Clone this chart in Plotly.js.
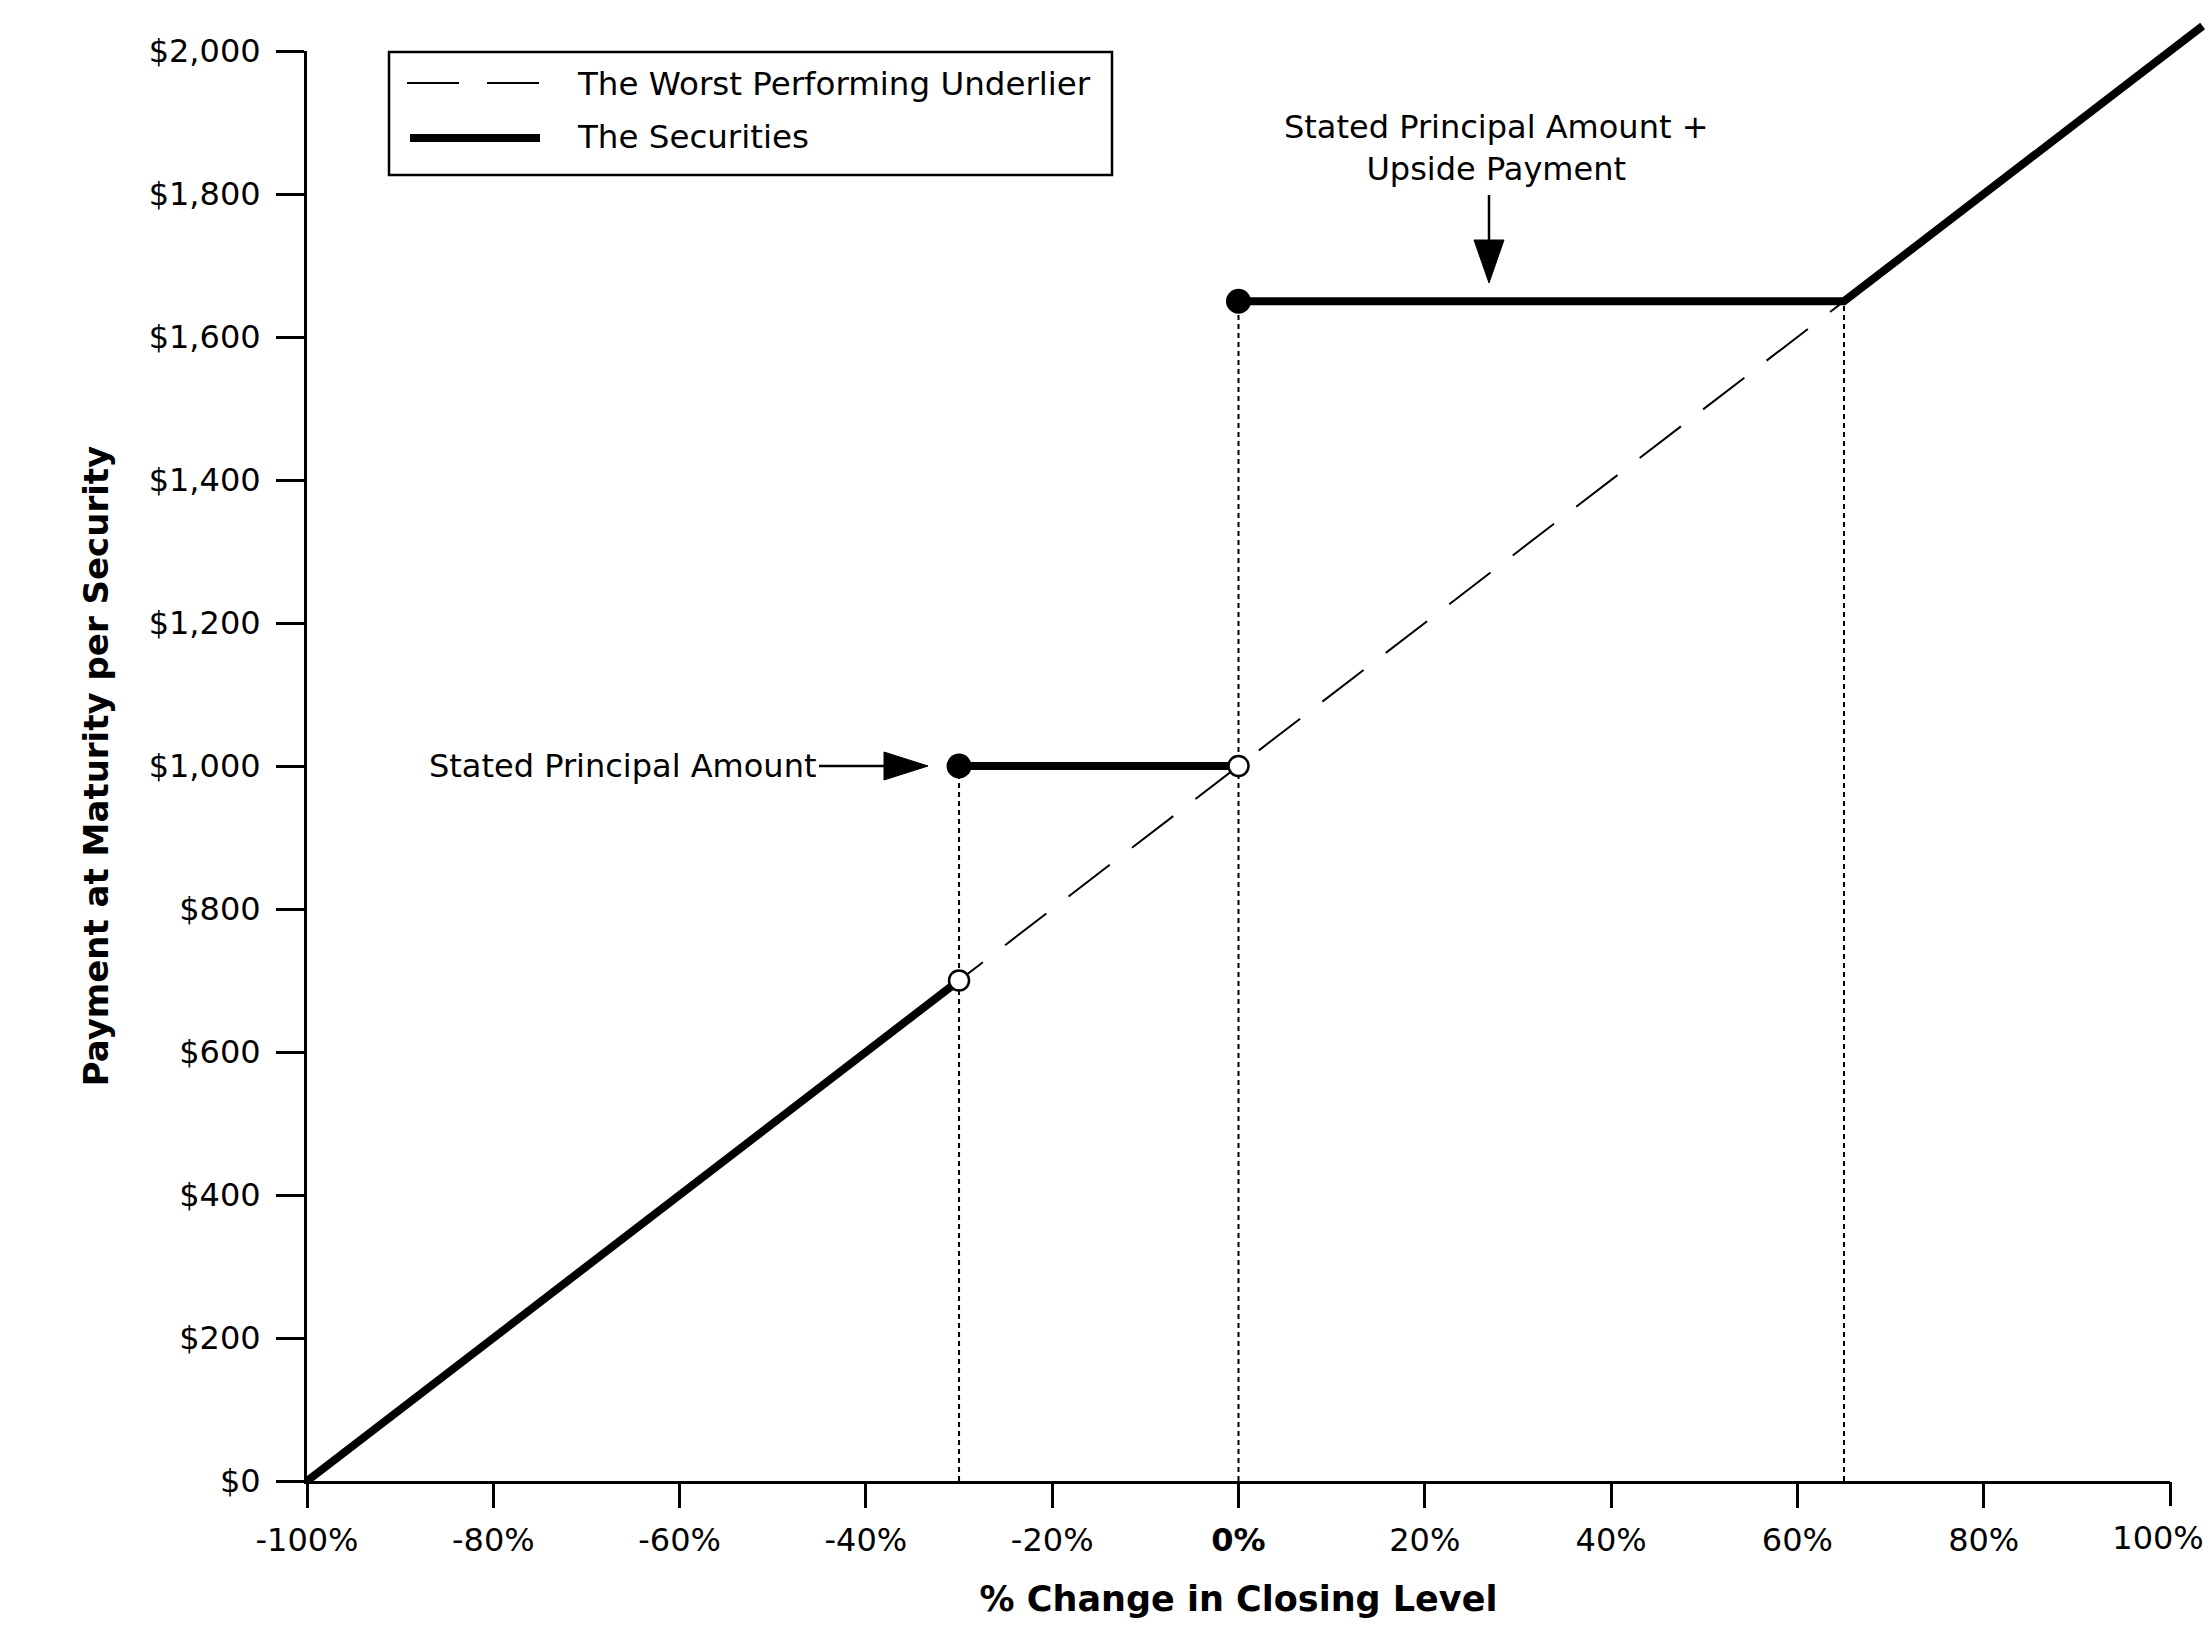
<!DOCTYPE html>
<html>
<head>
<meta charset="utf-8">
<script src="https://cdn.plot.ly/plotly-3.0.1.min.js"></script>
<style>html,body{margin:0;padding:0;background:#fff;}</style>
</head>
<body>
<div id="chart" style="width:2211px;height:1650px;"></div>
<script>
// ---------- data ----------
const xTickVals = [-1, -0.8, -0.6, -0.4, -0.2, 0, 0.2, 0.4, 0.6, 0.8];
const xTickText = ['-100%', '-80%', '-60%', '-40%', '-20%', '<b>0%</b>', '20%', '40%', '60%', '80%'];
const xEdgeTickVals = [1];
const xEdgeTickText = ['100%'];
const yTickVals = [0, 200, 400, 600, 800, 1000, 1200, 1400, 1600, 1800, 2000];
const yTickText = ['$0', '$200', '$400', '$600', '$800', '$1,000', '$1,200', '$1,400', '$1,600', '$1,800', '$2,000'];
const seriesNames = ['The Worst Performing Underlier', 'The Securities'];
const underlierX = [-1, 1];
const underlierY = [0, 2000];
const securitiesX = [-1, -0.3, null, -0.3, 0, null, 0, 0.65, 1.035];
const securitiesY = [0, 700, null, 1000, 1000, null, 1650, 1650, 2035];
const filledDotX = [-0.3, 0];
const filledDotY = [1000, 1650];
const openDotX = [-0.3, 0];
const openDotY = [700, 1000];
const dropLineX = [-0.3, -0.3, null, 0, 0, null, 0.65, 0.65];
const dropLineY = [0, 1000, null, 0, 1650, null, 0, 1650];
const labelPrincipal = 'Stated Principal Amount';
const labelUpside = 'Stated Principal Amount +<br>Upside Payment';

// ---------- geometry ----------
const W = 2211, H = 1650, L = 307, R = 0, T = 8, B = 169;
const plotW = W - L - R, plotH = H - T - B;
const axisSpanX = 1863, axisSpanY = 1430;          // pixels for -100%..100% and $0..$2,000
const pxPerX = axisSpanX / 2, pxPerY = axisSpanY / 2000;
const x2Range = [-1, -1 + plotW / pxPerX];
const y2Range = [0, plotH / pxPerY];
const px2x = p => -1 + (p - L) / pxPerX;
const py2y = p => (H - B - p) / pxPerY;

const FONT = 'DejaVu Sans';
const BLACK = '#000000';

const traces = [
  {x: dropLineX, y: dropLineY, xaxis: 'x3', yaxis: 'y', mode: 'lines', showlegend: false, hoverinfo: 'skip',
   line: {color: BLACK, width: 2, dash: '5px,4px'}},
  {x: underlierX, y: underlierY, mode: 'lines', name: seriesNames[0], showlegend: false,
   line: {color: BLACK, width: 2, dash: '52px,28px'}},
  // the securities line runs slightly past the axes, so it lives on a wider (hidden) axis pair with identical scale
  {x: securitiesX, y: securitiesY, xaxis: 'x2', yaxis: 'y2', mode: 'lines', name: seriesNames[1], showlegend: false,
   connectgaps: false, line: {color: BLACK, width: 8}},
  {x: openDotX, y: openDotY, xaxis: 'x2', yaxis: 'y2', mode: 'markers', showlegend: false, cliponaxis: false,
   marker: {size: 20, color: '#ffffff', line: {color: BLACK, width: 2.5}}},
  {x: filledDotX, y: filledDotY, xaxis: 'x2', yaxis: 'y2', mode: 'markers', showlegend: false, cliponaxis: false,
   marker: {size: 25, color: BLACK, line: {width: 0}}}
];

const axisCommon = {
  showgrid: false, zeroline: false, showline: true, linecolor: BLACK, linewidth: 3,
  ticks: 'outside', tickcolor: BLACK, tickwidth: 3, tickmode: 'array',
  tickfont: {family: FONT, size: 32, color: BLACK}, fixedrange: true
};

const shapes = [
  // legend box
  {type: 'rect', xref: 'x2', yref: 'y2', x0: px2x(389), x1: px2x(1112), y0: py2y(175), y1: py2y(52),
   line: {color: BLACK, width: 2.5}, fillcolor: 'rgba(0,0,0,0)'},
  {type: 'line', xref: 'x2', yref: 'y2', x0: px2x(407), x1: px2x(539), y0: py2y(83), y1: py2y(83),
   line: {color: BLACK, width: 2, dash: '52px,28px'}},
  {type: 'line', xref: 'x2', yref: 'y2', x0: px2x(410), x1: px2x(540), y0: py2y(138), y1: py2y(138),
   line: {color: BLACK, width: 8}},
  // arrow to stated principal amount
  {type: 'line', xref: 'x2', yref: 'y2', x0: px2x(819), x1: px2x(886), y0: 1000, y1: 1000,
   line: {color: BLACK, width: 2.5}},
  {type: 'path', xref: 'x2', yref: 'y2', xsizemode: 'pixel', ysizemode: 'pixel',
   xanchor: px2x(928), yanchor: 1000, path: 'M0,0 L-44,14 L-44,-14 Z',
   line: {color: BLACK, width: 1}, fillcolor: BLACK},
  // arrow to upside payment
  {type: 'line', xref: 'x2', yref: 'y2', x0: px2x(1489), x1: px2x(1489), y0: py2y(195), y1: py2y(242),
   line: {color: BLACK, width: 2.5}},
  {type: 'path', xref: 'x2', yref: 'y2', xsizemode: 'pixel', ysizemode: 'pixel',
   xanchor: px2x(1489), yanchor: py2y(283), path: 'M0,0 L-15,43 L15,43 Z',
   line: {color: BLACK, width: 1}, fillcolor: BLACK}
];

const annotations = [
  {xref: 'x2', yref: 'y2', x: px2x(575), y: py2y(84), xanchor: 'left', yanchor: 'middle', showarrow: false,
   text: seriesNames[0], font: {family: FONT, size: 32.5, color: BLACK}},
  {xref: 'x2', yref: 'y2', x: px2x(575), y: py2y(137), xanchor: 'left', yanchor: 'middle', showarrow: false,
   text: seriesNames[1], font: {family: FONT, size: 32.5, color: BLACK}},
  {xref: 'x2', yref: 'y2', x: px2x(818), y: 1000, xanchor: 'right', yanchor: 'middle', showarrow: false,
   text: labelPrincipal, font: {family: FONT, size: 32, color: BLACK}},
  {xref: 'x2', yref: 'y2', x: px2x(1496), y: py2y(190), xanchor: 'center', yanchor: 'bottom', showarrow: false,
   align: 'center', text: labelUpside, font: {family: FONT, size: 32, color: BLACK}}
];

const layout = {
  width: W, height: H,
  margin: {l: L, r: R, t: T, b: B, pad: 0},
  paper_bgcolor: '#ffffff', plot_bgcolor: 'rgba(0,0,0,0)',
  showlegend: false,
  xaxis: Object.assign({}, axisCommon, {
    domain: [0, axisSpanX / plotW], range: [-1, 1], anchor: 'y',
    ticklen: 24, tickvals: xTickVals, ticktext: xTickText,
    ticklabelstandoff: 5,
    title: {text: '% Change in Closing Level', standoff: 29,
            font: {family: FONT, size: 35, color: BLACK, weight: 'bold'}}
  }),
  // same scale as xaxis; carries the last tick, whose label is nudged left to stay inside the page
  xaxis3: Object.assign({}, axisCommon, {
    overlaying: 'x', range: [-1, 1], anchor: 'y', side: 'bottom', showline: false,
    ticklen: 24, tickvals: xEdgeTickVals, ticktext: xEdgeTickText,
    ticklabelstandoff: 5, ticklabelshift: -12, ticklabeloverflow: 'allow'
  }),
  yaxis: Object.assign({}, axisCommon, {
    domain: [0, axisSpanY / plotH], range: [0, 2000], anchor: 'x',
    ticklen: 28, tickvals: yTickVals, ticktext: yTickText,
    ticklabelstandoff: 9,
    title: {text: 'Payment at Maturity per Security', standoff: 30,
            font: {family: FONT, size: 34, color: BLACK, weight: 'bold'}}
  }),
  xaxis2: {domain: [0, 1], range: x2Range, anchor: 'y2', visible: false, fixedrange: true},
  yaxis2: {domain: [0, 1], range: y2Range, anchor: 'x2', visible: false, fixedrange: true},
  shapes: shapes,
  annotations: annotations
};

Plotly.newPlot('chart', traces, layout, {displayModeBar: false, staticPlot: true});
</script>
</body>
</html>
